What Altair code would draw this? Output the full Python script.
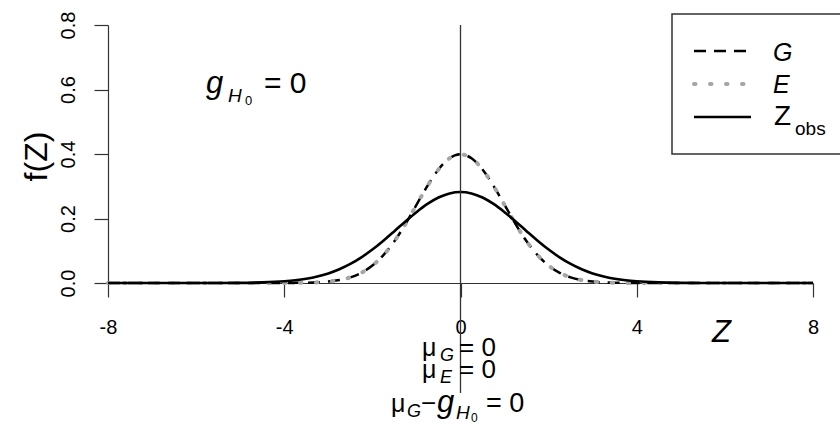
import altair as alt
import pandas as pd

# Grid of Z values and the three densities evaluated on it
z = [-8, -7.5, -7, -6.5, -6, -5.5, -5, -4.5,
     -4, -3.75, -3.5, -3.25, -3, -2.75, -2.5, -2.25,
     -2, -1.75, -1.5, -1.25, -1, -0.75, -0.5, -0.25,
     0, 0.25, 0.5, 0.75, 1, 1.25, 1.5, 1.75,
     2, 2.25, 2.5, 2.75, 3, 3.25, 3.5, 3.75,
     4, 4.5, 5, 5.5, 6, 6.5, 7, 7.5, 8]

f_G = [0, 0, 0, 0, 0, 0, 0, 0,
       0.0001, 0.0004, 0.0009, 0.0020, 0.0044, 0.0091, 0.0175, 0.0317,
       0.0540, 0.0863, 0.1295, 0.1826, 0.2420, 0.3011, 0.3521, 0.3867,
       0.3989, 0.3867, 0.3521, 0.3011, 0.2420, 0.1826, 0.1295, 0.0863,
       0.0540, 0.0317, 0.0175, 0.0091, 0.0044, 0.0020, 0.0009, 0.0004,
       0.0001, 0, 0, 0, 0, 0, 0, 0, 0]

f_E = [0, 0, 0, 0, 0, 0, 0, 0,
       0.0001, 0.0004, 0.0009, 0.0020, 0.0044, 0.0091, 0.0175, 0.0317,
       0.0540, 0.0863, 0.1295, 0.1826, 0.2420, 0.3011, 0.3521, 0.3867,
       0.3989, 0.3867, 0.3521, 0.3011, 0.2420, 0.1826, 0.1295, 0.0863,
       0.0540, 0.0317, 0.0175, 0.0091, 0.0044, 0.0020, 0.0009, 0.0004,
       0.0001, 0, 0, 0, 0, 0, 0, 0, 0]

f_Zobs = [0, 0, 0, 0, 0, 0.0001, 0.0005, 0.0018,
          0.0052, 0.0084, 0.0132, 0.0201, 0.0297, 0.0426, 0.0591, 0.0796,
          0.1038, 0.1312, 0.1607, 0.1909, 0.2197, 0.2451, 0.2650, 0.2777,
          0.2821, 0.2777, 0.2650, 0.2451, 0.2197, 0.1909, 0.1607, 0.1312,
          0.1038, 0.0796, 0.0591, 0.0426, 0.0297, 0.0201, 0.0132, 0.0084,
          0.0052, 0.0018, 0.0005, 0.0001, 0, 0, 0, 0, 0]

x_ticks = [-8, -4, 0, 4, 8]
y_ticks = [0, 0.2, 0.4, 0.6, 0.8]

curves = pd.concat([
    pd.DataFrame({"z": z, "f": f_G, "s": "G"}),
    pd.DataFrame({"z": z, "f": f_E, "s": "E"}),
    pd.DataFrame({"z": z, "f": f_Zobs, "s": "Zobs"}),
])

FONT = "Liberation Sans"
X0, Y0 = 108, 25          # page position of the plot-area origin
W, H = 705, 258

G_STYLE = dict(color="black", strokeWidth=2.5, strokeDash=[12, 8], strokeCap="butt")
E_STYLE = dict(color="#a6a6a6", strokeWidth=4, strokeDash=[1.5, 14.5], strokeCap="round")
Z_STYLE = dict(color="black", strokeWidth=2.6)

xs = alt.Scale(domain=[-8, 8], nice=False, zero=False)
ys = alt.Scale(domain=[0, 0.8], nice=False, zero=False)

x_axis = alt.Axis(values=x_ticks, title=None, labelExpr="'' + datum.value",
                  tickSize=14, labelPadding=20, labelFontSize=20, labelFlush=False,
                  labelOverlap=False, grid=False)
y_axis = alt.Axis(values=y_ticks, format=".1f", title="f(Z)",
                  tickSize=14, labelPadding=20, labelFontSize=20, labelAngle=270,
                  labelAlign="center", labelBaseline="alphabetic", labelOverlap=False,
                  labelFlush=False,
                  titleAngle=270, titleX=36 - X0, titleY=156 - Y0, titleAlign="center",
                  titleBaseline="middle", titleFontSize=32, titleFontWeight="normal",
                  grid=False)

base = alt.Chart(curves)


def curve(name, style):
    return (base.transform_filter(alt.datum.s == name)
            .mark_line(interpolate="monotone", **style)
            .encode(x=alt.X("z:Q", scale=xs, axis=x_axis),
                    y=alt.Y("f:Q", scale=ys, axis=y_axis)))


def label(s, x, y, size, style="normal", align="left", color="black"):
    return alt.Chart(pd.DataFrame({"t": [s]})).mark_text(
        font=FONT, fontSize=size, fontStyle=style, align=align,
        baseline="alphabetic", color=color
    ).encode(x=alt.value(x - X0), y=alt.value(y - Y0), text=alt.value(s))


def seg(x1, x2, y, style):
    return alt.Chart(pd.DataFrame({"k": [0]})).mark_rule(**style).encode(
        x=alt.value(x1 - X0), x2=alt.value(x2 - X0), y=alt.value(y - Y0))


# vertical reference line at Z = 0
vline = alt.Chart(pd.DataFrame({"z": [0]})).mark_rule(color="#333", strokeWidth=1.3).encode(
    x=alt.X("z:Q", scale=xs, axis=x_axis), y=alt.value(0), y2=alt.value(393 - Y0))

# legend
box = alt.Chart(pd.DataFrame({"k": [0]})).mark_rect(
    fillOpacity=0, stroke="#333", strokeWidth=1.5).encode(
    x=alt.value(672 - X0), x2=alt.value(860 - X0),
    y=alt.value(14 - Y0), y2=alt.value(154 - Y0))

legend = [
    box,
    seg(694, 751, 51, G_STYLE),
    seg(694, 751, 84, E_STYLE),
    seg(694, 751, 117, Z_STYLE),
    label("G", 773, 61, 25, "italic"),
    label("E", 773, 93, 25, "italic"),
    label("Z", 774, 125, 28),
    label("obs", 795, 135, 19),
]

# hypothesis annotation
notes = [
    label("g", 206, 93, 31, "italic"),
    label("H", 228, 102, 19, "italic"),
    label("0", 245, 105, 13),
    label("= 0", 264, 93, 30),
    # x-axis title
    label("Z", 712, 342, 31, "italic"),
    # means under the axis
    label("\u03bc", 422, 356, 25),
    label("G", 440, 361, 18, "italic"),
    label("= 0", 459, 356, 26),
    label("\u03bc", 422, 378, 25),
    label("E", 440, 383, 18, "italic"),
    label("= 0", 459, 378, 26),
    label("\u03bc", 391, 412, 25),
    label("G", 407, 417, 18, "italic"),
    label("\u2212", 421, 412, 26),
    label("g", 437, 412, 31, "italic"),
    label("H", 456, 419, 19, "italic"),
    label("0", 471, 422, 12),
    label("= 0", 486, 412, 27),
]

chart = alt.layer(
    curve("G", G_STYLE),
    curve("E", E_STYLE),
    curve("Zobs", Z_STYLE),
    vline,
    *legend,
    *notes,
).properties(
    width=W, height=H,
    autosize=alt.AutoSizeParams(type="none"),
    padding={"left": X0, "top": Y0, "right": 840 - X0 - W, "bottom": 424 - Y0 - H},
).configure_view(stroke=None).configure_axis(
    labelFont=FONT, titleFont=FONT, labelColor="black", titleColor="black",
    domainColor="#333", tickColor="#333", domainWidth=1.2, tickWidth=1.2,
)

chart.save("out.html", embed_options={"renderer": "svg", "actions": False})
